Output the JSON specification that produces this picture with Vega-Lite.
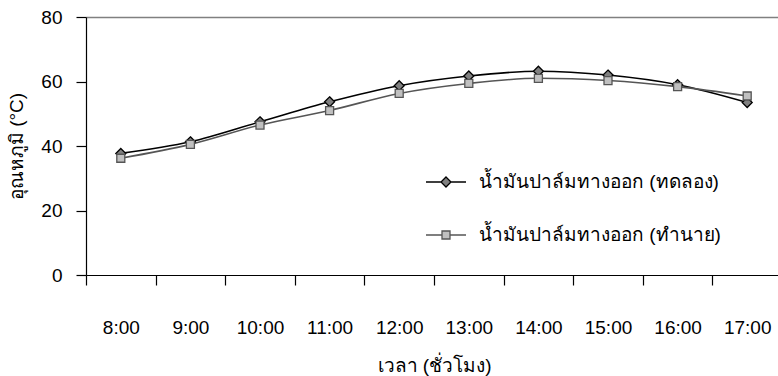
{
  "$schema": "https://vega.github.io/schema/vega-lite/v6.json",
  "autosize": {"type": "none"},
  "padding": {"left": 86, "top": 17, "right": 0, "bottom": 101},
  "width": 692,
  "height": 258,
  "background": "white",
  "config": {
    "view": {"stroke": null},
    "font": "Liberation Sans"
  },
  "data": {
    "values": [
      {"time": "8:00", "series": "น้ำมันปาล์มทางออก (ทดลอง)", "temp": 37.7},
      {"time": "9:00", "series": "น้ำมันปาล์มทางออก (ทดลอง)", "temp": 41.3},
      {"time": "10:00", "series": "น้ำมันปาล์มทางออก (ทดลอง)", "temp": 47.5},
      {"time": "11:00", "series": "น้ำมันปาล์มทางออก (ทดลอง)", "temp": 53.7},
      {"time": "12:00", "series": "น้ำมันปาล์มทางออก (ทดลอง)", "temp": 58.7},
      {"time": "13:00", "series": "น้ำมันปาล์มทางออก (ทดลอง)", "temp": 61.7},
      {"time": "14:00", "series": "น้ำมันปาล์มทางออก (ทดลอง)", "temp": 63.2},
      {"time": "15:00", "series": "น้ำมันปาล์มทางออก (ทดลอง)", "temp": 62.0},
      {"time": "16:00", "series": "น้ำมันปาล์มทางออก (ทดลอง)", "temp": 59.0},
      {"time": "17:00", "series": "น้ำมันปาล์มทางออก (ทดลอง)", "temp": 53.5},
      {"time": "8:00", "series": "น้ำมันปาล์มทางออก (ทำนาย)", "temp": 36.2},
      {"time": "9:00", "series": "น้ำมันปาล์มทางออก (ทำนาย)", "temp": 40.5},
      {"time": "10:00", "series": "น้ำมันปาล์มทางออก (ทำนาย)", "temp": 46.5},
      {"time": "11:00", "series": "น้ำมันปาล์มทางออก (ทำนาย)", "temp": 51.0},
      {"time": "12:00", "series": "น้ำมันปาล์มทางออก (ทำนาย)", "temp": 56.3},
      {"time": "13:00", "series": "น้ำมันปาล์มทางออก (ทำนาย)", "temp": 59.4},
      {"time": "14:00", "series": "น้ำมันปาล์มทางออก (ทำนาย)", "temp": 61.0},
      {"time": "15:00", "series": "น้ำมันปาล์มทางออก (ทำนาย)", "temp": 60.3},
      {"time": "16:00", "series": "น้ำมันปาล์มทางออก (ทำนาย)", "temp": 58.4},
      {"time": "17:00", "series": "น้ำมันปาล์มทางออก (ทำนาย)", "temp": 55.5}
    ]
  },
  "encoding": {
    "x": {
      "field": "time", "type": "ordinal", "sort": null,
      "scale": {"type": "band", "range": [0, 696], "paddingInner": 0, "paddingOuter": 0},
      "axis": {
        "title": "เวลา (ชั่วโมง)", "titleFontSize": 19, "titlePadding": 19, "titleColor": "#000", "titleFontWeight": "normal", "titleFont": "Liberation Sans",
        "labelFontSize": 19, "labelAngle": 0, "labelPadding": 33, "labelColor": "#000", "labelFont": "Liberation Sans",
        "tickBand": "extent", "tickSize": 10, "tickColor": "#000", "domainColor": "#000",
        "domainWidth": 1.2, "tickWidth": 1.2
      }
    },
    "y": {
      "field": "temp", "type": "quantitative",
      "scale": {"domain": [0, 80], "nice": false},
      "axis": {
        "title": "อุณหภูมิ (°C)", "titleFontSize": 19, "titlePadding": 14, "titleColor": "#000", "titleFontWeight": "normal", "titleFont": "Liberation Sans",
        "values": [0, 20, 40, 60, 80], "labelFontSize": 19, "labelPadding": 14, "labelColor": "#000", "labelFont": "Liberation Sans",
        "tickSize": 10, "tickColor": "#000", "domainColor": "#000",
        "domainWidth": 1.2, "tickWidth": 1.2,
        "grid": true, "gridColor": "#808080", "gridWidth": 1.5,
        "gridOpacity": {"condition": {"test": "datum.value == 80", "value": 1}, "value": 0}
      }
    }
  },
  "layer": [
    {
      "mark": {"type": "line", "interpolate": "monotone", "strokeWidth": 1.6},
      "encoding": {
        "stroke": {
          "field": "series", "type": "nominal",
          "scale": {"range": ["#000000", "#555555"]},
          "legend": {
            "title": null, "orient": "none", "legendX": 339, "legendY": 144,
            "symbolSize": 1600, "rowPadding": 22, "labelOffset": 12, "padding": 0,
            "labelFontSize": 19, "labelFont": "Liberation Sans", "labelColor": "#000", "labelLimit": 400,
            "symbolStrokeWidth": 1.3, "symbolType": "M-1,0H1",
            "encode": {
              "symbols": {
                "update": {
                  "shape": {"signal": "datum.value === 'น้ำมันปาล์มทางออก (ทดลอง)' ? 'M-1,0H-0.25M0.25,0H1M0,-0.25L0.25,0L0,0.25L-0.25,0Z' : 'M-1,0H-0.2M0.2,0H1M-0.2,-0.2H0.2V0.2H-0.2Z'"},
                  "fill": {"signal": "datum.value === 'น้ำมันปาล์มทางออก (ทดลอง)' ? '#808080' : '#c0c0c0'"},
                  "fillOpacity": {"value": 1}
                }
              }
            }
          }
        }
      }
    },
    {
      "mark": {"type": "point", "filled": true, "opacity": 1, "strokeWidth": 1.3},
      "encoding": {
        "shape": {
          "field": "series", "type": "nominal",
          "scale": {"range": ["M0,-1L1,0L0,1L-1,0Z", "M-0.8,-0.8H0.8V0.8H-0.8Z"]},
          "legend": null
        },
        "fill": {
          "field": "series", "type": "nominal",
          "scale": {"range": ["#808080", "#c0c0c0"]},
          "legend": null
        },
        "stroke": {
          "field": "series", "type": "nominal",
          "scale": {"range": ["#000000", "#555555"]}
        },
        "size": {"value": 100}
      }
    }
  ]
}
